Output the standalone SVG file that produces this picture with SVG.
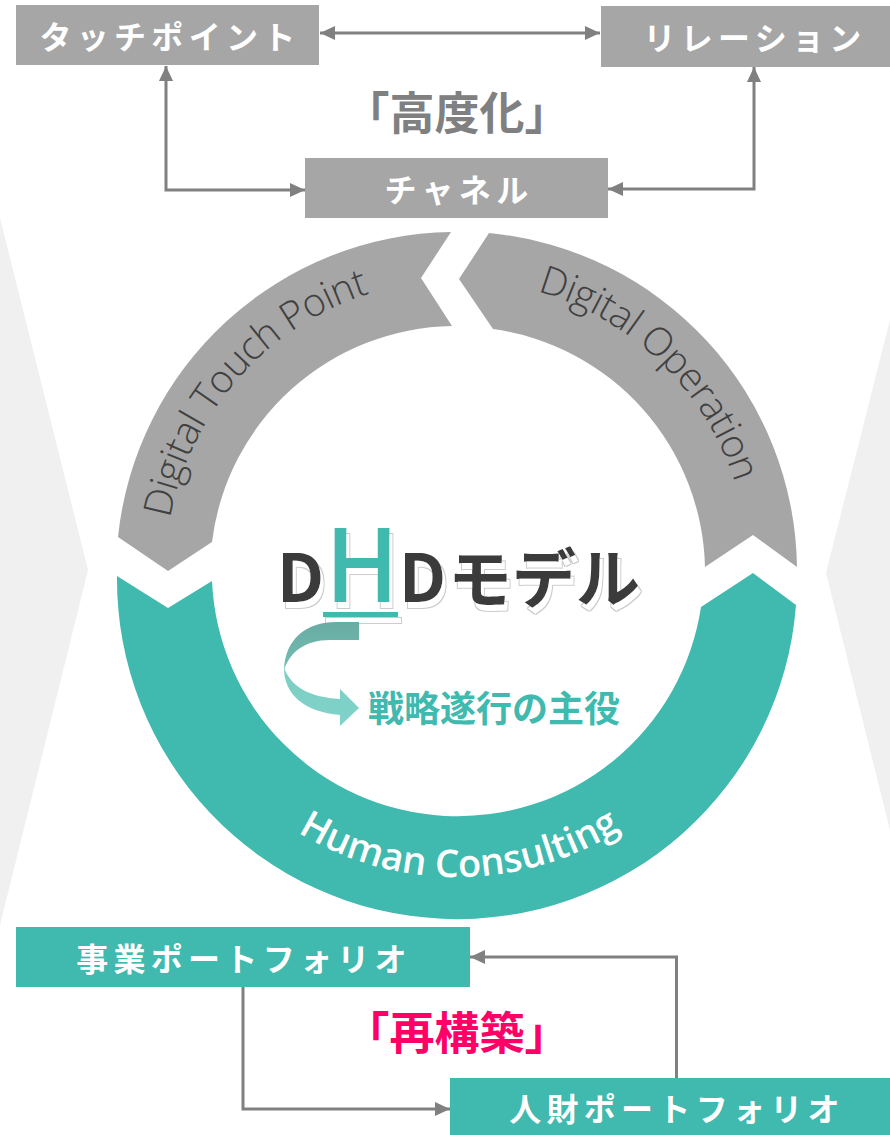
<svg xmlns="http://www.w3.org/2000/svg" width="890" height="1135" viewBox="0 0 890 1135">
<defs>
<style>
.box-gray{fill:#a6a6a6}
.box-teal{fill:#40b9ae}
.lbl{font-family:"Noto Sans CJK JP","Noto Sans",sans-serif;font-weight:700;font-size:32px;letter-spacing:5.3px;fill:#ffffff;text-anchor:middle;dominant-baseline:central}
.conn{fill:none;stroke:#808080;stroke-width:3}
.ring-t{font-family:"Open Sans","Noto Sans",sans-serif;font-weight:300;font-size:39px;letter-spacing:-0.6px;fill:#404040}
.ring-h{font-family:"Open Sans","Noto Sans",sans-serif;font-weight:600;font-size:38px;fill:#ffffff}
.big{font-family:"Noto Sans CJK JP","Noto Sans",sans-serif;font-weight:700}
</style>
<marker id="ah" markerUnits="userSpaceOnUse" markerWidth="16" markerHeight="14" refX="15" refY="7" orient="auto-start-reverse">
<path d="M0,0 L15,7 L0,14 Z" fill="#808080"/>
</marker>
<filter id="shadow" filterUnits="userSpaceOnUse" x="250" y="500" width="420" height="140">
<feOffset in="SourceAlpha" dx="3" dy="6" result="off"/>
<feMorphology in="off" operator="dilate" radius="1" result="dil"/>
<feFlood flood-color="#cccccc" result="gray"/>
<feComposite in="gray" in2="dil" operator="in" result="grayDil"/>
<feFlood flood-color="#ffffff" result="white"/>
<feComposite in="white" in2="off" operator="in" result="whiteOff"/>
<feMerge><feMergeNode in="grayDil"/><feMergeNode in="whiteOff"/><feMergeNode in="SourceGraphic"/></feMerge>
</filter>
<path id="p-dtp" d="M 180.1 664.7 A 292 292 0 0 1 515.2 285.9"/>
<path id="p-dop" d="M 376.5 291.3 A 292 292 0 0 1 740.3 642.6"/>
<path id="p-hc" d="M 194.2 726.8 A 305 305 0 0 0 722.5 722.2"/>
<linearGradient id="g-dark" x1="0" y1="0" x2="0" y2="1">
<stop offset="0" stop-color="#68aca3"/>
<stop offset="1" stop-color="#74bdb4"/>
</linearGradient>
<linearGradient id="g-light" x1="0" y1="0" x2="0" y2="1">
<stop offset="0" stop-color="#7ccec3"/>
<stop offset="1" stop-color="#80d3c9"/>
</linearGradient>
</defs>
<rect width="890" height="1135" fill="#ffffff"/>

<g id="side-shapes">
<polygon points="0,218 88,570 0,925" fill="#f0f0f0"/>
<polygon points="890,320 826,573 890,830" fill="#f0f0f0"/>
</g>

<g id="ring-digital-touch-point">
<path d="M 118 537 A 340 340 0 0 1 451 232 L 421 278 L 452 326 A 246 246 0 0 0 212 542 L 168 571 Z" fill="#a6a6a6"/>
<text class="ring-t"><textPath href="#p-dtp" startOffset="50%" text-anchor="middle">Digital Touch Point</textPath></text>
</g>
<g id="ring-digital-operation">
<path d="M 489 233 A 340 340 0 0 1 797 567 L 753 535 L 705 567 A 246 246 0 0 0 493 329 L 459 279 Z" fill="#a6a6a6"/>
<text class="ring-t"><textPath href="#p-dop" startOffset="50%" text-anchor="middle">Digital Operation</textPath></text>
</g>
<g id="ring-human-consulting">
<path d="M 796 605 A 340 340 0 0 1 117 576 L 168 608 L 212 581 A 246 246 0 0 0 701 607 L 753 573 Z" fill="#40b9ae"/>
<text class="ring-h"><textPath href="#p-hc" startOffset="50%" text-anchor="middle">Human Consulting</textPath></text>
</g>

<g id="dhd-model" filter="url(#shadow)">
<text class="big" y="602"><tspan x="277" font-size="66" fill="#3b3b3b">D</tspan><tspan x="325" font-size="100" font-weight="500" fill="#40b9ae">H</tspan><tspan x="399" font-size="66" fill="#3b3b3b">D</tspan><tspan x="448" font-size="64" fill="#3b3b3b">モデル</tspan></text>
<rect x="323" y="612" width="75" height="5" fill="#40b9ae"/>
</g>

<g id="curved-arrow">
<path d="M 359 622 L 337 622 C 305 622 285 640 284 670 C 290 652 305 640 330 640 L 359 640 Z" fill="url(#g-dark)"/>
<path d="M 284 668 C 284 695 305 712 340 715 L 340 726 L 359 708 L 340 689 L 340 699 C 310 697 292 688 284 668 Z" fill="url(#g-light)"/>
</g>

<g id="main-role">
<text class="big" x="368" y="706" font-size="36" fill="#40b9ae" dominant-baseline="central">戦略遂行の主役</text>
</g>

<g id="node-touchpoint">
<rect class="box-gray" x="16" y="5" width="303" height="60"/>
<text class="lbl" x="170" y="35">タッチポイント</text>
</g>
<g id="node-relation">
<rect class="box-gray" x="601" y="6" width="289" height="61"/>
<text class="lbl" x="755" y="36">リレーション</text>
</g>
<g id="node-channel">
<rect class="box-gray" x="305" y="158" width="303" height="60"/>
<text class="lbl" x="459" y="188">チャネル</text>
</g>
<g id="label-koudoka">
<text class="big" x="457" y="110" font-size="45" fill="#808080" text-anchor="middle" dominant-baseline="central">「高度化」</text>
</g>

<g id="node-business">
<rect class="box-teal" x="16" y="927" width="454" height="60"/>
<text class="lbl" x="244" y="957">事業ポートフォリオ</text>
</g>
<g id="node-hr">
<rect class="box-teal" x="450" y="1078" width="440" height="57"/>
<text class="lbl" x="677" y="1107">人財ポートフォリオ</text>
</g>
<g id="label-saikouchiku">
<text class="big" x="457" y="1030" font-size="45" fill="#ff0066" text-anchor="middle" dominant-baseline="central">「再構築」</text>
</g>

<g id="connectors">
<line class="conn" x1="320" y1="33" x2="600" y2="33" marker-start="url(#ah)" marker-end="url(#ah)"/>
<path class="conn" d="M 166 66 V 190 H 305" marker-start="url(#ah)" marker-end="url(#ah)"/>
<path class="conn" d="M 754 67 V 189 H 608" marker-start="url(#ah)" marker-end="url(#ah)"/>
<path class="conn" d="M 243 987 V 1109 H 450" marker-end="url(#ah)"/>
<path class="conn" d="M 676.5 1078 V 957 H 470" marker-end="url(#ah)"/>
</g>
</svg>
